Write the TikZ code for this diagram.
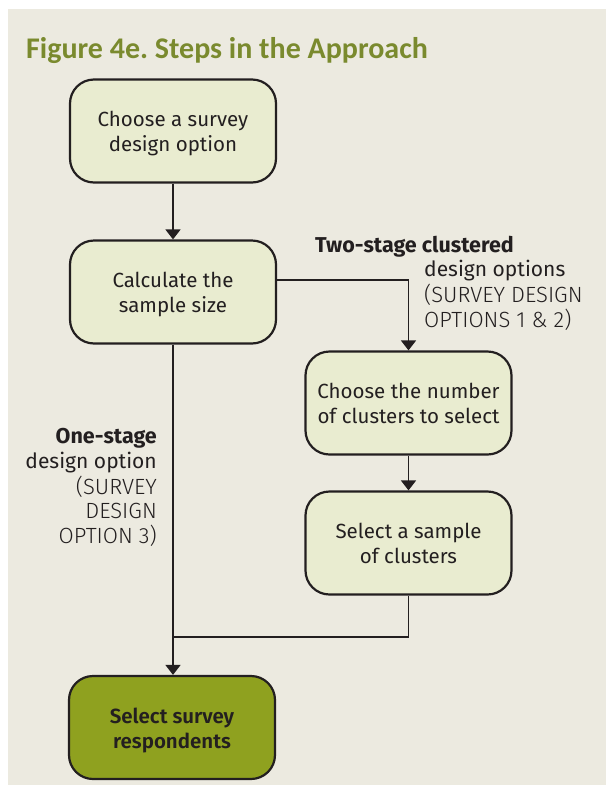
\documentclass[tikz,border=0pt]{standalone}
\usepackage{fontspec}
\setmainfont{Fira Sans}
\newfontfamily\titlef{Carlito}
\newfontfamily\lightf{Fira Sans Light}
\newfontfamily\semif{Fira Sans SemiBold}
\usetikzlibrary{arrows.meta}
\definecolor{bgbeige}{RGB}{236,234,224}
\definecolor{boxfill}{RGB}{233,236,208}
\definecolor{darkbox}{RGB}{143,161,31}
\definecolor{titlegreen}{RGB}{122,138,46}
\definecolor{ink}{RGB}{35,31,32}
\tikzset{
  stepbox/.style={draw=ink, line width=2.2pt, rounded corners=24pt, fill=boxfill,
    minimum width=206pt, minimum height=103pt, align=center, text=ink,
    font=\fontsize{20.5}{25}\selectfont, inner sep=0pt,
    execute at begin node={\rule[-7pt]{0pt}{55pt}}},
  finalbox/.style={stepbox, fill=darkbox, font=\fontsize{20.5}{25}\semif},
  conn/.style={draw=ink, line width=1.6pt},
  arr/.style={conn, -{Triangle[width=15pt,length=10pt]}},
  lbl/.style={text=ink, inner sep=0pt, font=\fontsize{21}{25}\selectfont},
  lbll/.style={text=ink, inner sep=0pt, font=\fontsize{22}{25}\lightf},
  lblb/.style={lbl, font=\fontsize{21.5}{25}\selectfont\bfseries},
}
\begin{document}
\begin{tikzpicture}[x=1pt,y=-1pt]
\useasboundingbox (0,0) rectangle (606,785);
\fill[white] (0,0) rectangle (606,785);
\fill[bgbeige] (8,9) rectangle (606,785);
\node[anchor=base west, inner sep=0pt, text=titlegreen, font=\fontsize{30}{36}\titlef\bfseries\frenchspacing] (title) at (26,58) {Figure 4e. Steps in the Approach};
\node[stepbox] (b1) at (173,131) {Choose a survey\\design option};
\node[stepbox] (b2) at (173,292) {Calculate the\\sample size};
\node[stepbox] (b3) at (408.5,403) {Choose the number\\of clusters to select};
\node[stepbox] (b4) at (408.5,543) {Select a sample\\of clusters};
\node[finalbox] (b5) at (172,727.5) {Select survey\\respondents};
\coordinate (turn1) at (b3.north |- 0,280);
\coordinate (b2r) at (b2.east |- turn1);
\coordinate (join) at (b1.south |- 0,637);
\coordinate (b4down) at (b4.south |- join);
\draw[arr] (b1) -- (b2);
\draw[arr] (b2r) -- (turn1) -- (b3.north);
\draw[arr] (b3) -- (b4);
\draw[conn] (b4.south) -- (b4down) -- (join);
\draw[arr] (b2.south -| join) -- (join) -- (join |- b5.north);
\node[lblb, anchor=base west] (t1) at (315,252) {Two-stage clustered};
\node[lbl, anchor=base west] (t2) at (424,276) {design options};
\node[lbll, anchor=base west] (t3) at (424,302) {(SURVEY DESIGN};
\node[lbll, anchor=base west] (t4) at (424,327) {OPTIONS 1 \& 2)};
\node[lblb, anchor=base east] (o1) at (157,443) {One-stage};
\node[lbl, anchor=base east] (o2) at (157,468) {design option};
\node[lbll, anchor=base east] (o3) at (157,494) {(SURVEY};
\node[lbll, anchor=base east] (o4) at (157,518) {DESIGN};
\node[lbll, anchor=base east] (o5) at (157,543) {OPTION 3)};
\end{tikzpicture}
\end{document}
